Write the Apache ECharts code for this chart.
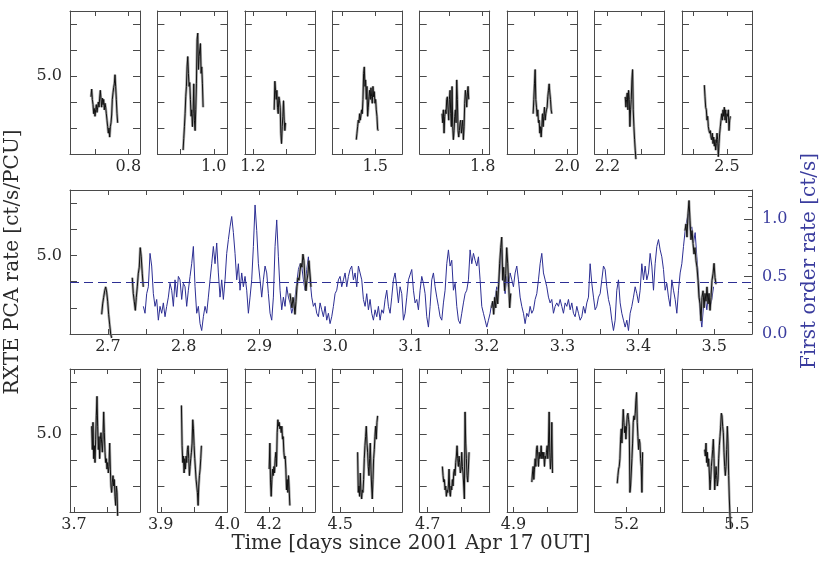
<!DOCTYPE html>
<html>
<head>
<meta charset="utf-8">
<title>RXTE PCA and first order light curves</title>
<script src="https://cdn.jsdelivr.net/npm/echarts@6/dist/echarts.min.js"></script>
<style>
  html, body { margin: 0; padding: 0; background: #fff; }
  #chart { width: 830px; height: 561px; }
</style>
</head>
<body>
<div id="chart"></div>
<script>
// ---------- data ----------
// x ranges and ticks of the small panels (days)
const topRanges = [[0.7125, 0.8175], [0.9155, 1.0205], [1.188, 1.293], [1.4355, 1.5405], [1.7055, 1.8105], [1.91, 2.015], [2.1805, 2.2855], [2.4325, 2.5375]]
const topTicks = [[0.75, 0.8], [0.95, 1.0], [1.2, 1.25], [1.45, 1.5], [1.75, 1.8], [1.95, 2.0], [2.2, 2.25], [2.45, 2.5]]
const topLabels = [[0.8], [1.0], [1.2], [1.5], [1.8], [2.0], [2.2], [2.5]]

const botRanges = [[3.694, 3.799], [3.895, 4.0], [4.1635, 4.2685], [4.488, 4.593], [4.688, 4.793], [4.8905, 4.9955], [5.152, 5.257], [5.4175, 5.5225]]
const botTicks = [[3.7, 3.75], [3.9, 3.95, 4.0], [4.2, 4.25], [4.5, 4.55], [4.7, 4.75], [4.9, 4.95], [5.2, 5.25], [5.45, 5.5]]
const botLabels = [[3.7], [3.9, 4.0], [4.2], [4.5], [4.7], [4.9], [5.2], [5.5]]

// middle panel axes
const midRange = [2.65, 3.55]
const midTicks = [2.7, 2.75, 2.8, 2.85, 2.9, 2.95, 3.0, 3.05, 3.1, 3.15, 3.2, 3.25, 3.3, 3.35, 3.4, 3.45, 3.5]
const midLabels = [2.7, 2.8, 2.9, 3.0, 3.1, 3.2, 3.3, 3.4, 3.5]
const pcaRange = [2, 7.5]
const pcaTicks = [3, 4, 5, 6, 7]
const pcaLabels = [5]
const foRange = [0, 1.25]
const foMajor = [0, 0.5, 1.0]
const foMinor = [0.1, 0.2, 0.3, 0.4, 0.6, 0.7, 0.8, 0.9, 1.1, 1.2]
const foMean = 0.45

// PCA rate, top row  [time, rate]
const pcaTop1 = [[0.744,4.2],[0.745,4.5],[0.746,4.1],[0.747,3.9],[0.748,3.55],[0.749,3.75],[0.750,3.45],[0.751,3.7],[0.752,3.9],[0.753,3.6],[0.754,3.8],[0.755,4.0],[0.756,3.8],[0.757,4.15],[0.758,4.45],[0.759,4.1],[0.760,3.8],[0.761,4.15],[0.762,3.9],[0.763,4.1],[0.764,3.7],[0.765,3.95],[0.766,3.8],[0.767,3.55],[0.768,3.3],[0.769,3.05],[0.770,2.8],[0.771,3.0],[0.772,2.65],[0.773,3.05],[0.774,3.2],[0.775,3.5],[0.776,4.1],[0.777,4.35],[0.778,4.55],[0.779,4.7],[0.780,5.05],[0.781,4.6],[0.782,4.1],[0.783,3.55],[0.784,3.2]]
const pcaTop2 = [[0.954,2.15],[0.955,2.6],[0.956,3.05],[0.957,3.55],[0.958,4.2],[0.959,4.6],[0.960,5.35],[0.961,5.75],[0.962,5.1],[0.963,4.6],[0.964,4.75],[0.965,4.1],[0.966,3.45],[0.967,3.7],[0.968,3.05],[0.969,3.55],[0.970,4.7],[0.971,3.3],[0.972,2.9],[0.973,3.7],[0.974,4.7],[0.975,6.4],[0.976,6.65],[0.977,5.25],[0.978,5.75],[0.979,6.0],[0.980,6.25],[0.981,5.1],[0.982,5.35],[0.983,4.7],[0.984,3.8]]
const pcaTop3 = [[1.232,3.7],[1.233,4.8],[1.234,4.45],[1.235,4.1],[1.236,4.45],[1.237,3.8],[1.238,3.55],[1.239,4.2],[1.240,4.05],[1.241,3.8],[1.242,2.8],[1.243,2.4],[1.244,3.05],[1.245,3.45],[1.246,4.05],[1.247,3.3],[1.248,2.9],[1.249,3.2]]
const pcaTop4 = [[1.4715,2.55],[1.4725,2.8],[1.4735,3.05],[1.4745,3.3],[1.4755,3.2],[1.4765,3.55],[1.4775,3.3],[1.4785,3.5],[1.4795,3.7],[1.4805,3.55],[1.4815,4.1],[1.4825,5.1],[1.4835,5.35],[1.4845,4.6],[1.4855,4.85],[1.4865,4.1],[1.4875,4.6],[1.4885,3.45],[1.4895,3.8],[1.4905,4.2],[1.4915,4.45],[1.4925,4.1],[1.4935,4.55],[1.4945,4.2],[1.4955,3.95],[1.4965,4.6],[1.4975,4.2],[1.4985,4.4],[1.4995,3.95],[1.5005,4.1],[1.5015,3.7],[1.5025,3.45],[1.5035,2.95],[1.5045,2.9]]
const pcaTop5 = [[1.739,3.55],[1.740,3.2],[1.741,3.7],[1.742,2.8],[1.743,3.45],[1.744,3.7],[1.745,3.55],[1.746,4.1],[1.747,4.2],[1.748,3.7],[1.749,3.3],[1.750,4.1],[1.751,4.45],[1.752,3.55],[1.753,3.05],[1.754,4.6],[1.755,3.05],[1.756,2.55],[1.757,2.9],[1.758,3.45],[1.759,3.7],[1.760,3.2],[1.761,4.85],[1.762,4.1],[1.763,2.9],[1.764,2.65],[1.765,2.9],[1.766,3.2],[1.767,3.3],[1.768,2.8],[1.769,3.05],[1.770,3.3],[1.771,2.55],[1.772,3.05],[1.773,3.95],[1.774,4.45],[1.775,4.2],[1.776,3.8],[1.777,4.35],[1.778,4.6],[1.779,4.1]]
const pcaTop6 = [[1.949,3.55],[1.950,4.1],[1.951,4.7],[1.952,5.25],[1.953,4.1],[1.954,3.8],[1.955,3.45],[1.956,3.7],[1.957,3.2],[1.958,3.3],[1.959,2.8],[1.960,3.05],[1.961,2.65],[1.962,3.05],[1.963,3.55],[1.964,3.05],[1.965,3.45],[1.966,3.8],[1.967,3.3],[1.968,3.55],[1.969,3.7],[1.970,3.8],[1.971,4.2],[1.972,4.45],[1.973,4.7],[1.974,4.35],[1.975,4.1],[1.976,3.7],[1.977,3.55]]
const pcaTop7 = [[2.2265,4.2],[2.2275,3.8],[2.2285,4.1],[2.2295,4.35],[2.2305,3.7],[2.2315,4.45],[2.2325,4.1],[2.2335,3.05],[2.2345,3.7],[2.2355,4.1],[2.2365,4.85],[2.2375,5.25],[2.2385,3.7],[2.2395,3.05],[2.2405,2.55],[2.2415,2.15],[2.2425,1.8]]
const pcaTop8 = [[2.466,4.65],[2.467,4.2],[2.468,3.8],[2.469,3.7],[2.470,3.3],[2.471,3.45],[2.472,3.05],[2.473,2.9],[2.474,2.8],[2.475,2.9],[2.476,2.65],[2.477,2.55],[2.478,2.8],[2.479,2.4],[2.480,2.65],[2.481,2.3],[2.482,2.55],[2.483,2.15],[2.484,2.4],[2.485,2.8],[2.486,2.55],[2.487,1.9],[2.488,2.4],[2.489,2.8],[2.490,3.05],[2.491,3.3],[2.492,3.55],[2.493,3.3],[2.494,3.7],[2.495,3.45],[2.496,3.8],[2.497,3.3],[2.498,3.7],[2.499,3.2],[2.500,3.55],[2.501,3.45],[2.502,3.7],[2.503,2.9],[2.504,3.3],[2.505,3.45]]

// PCA rate, bottom row
const pcaBot1 = [[3.7265,5.3],[3.7275,4.4],[3.7285,5.45],[3.7295,4.05],[3.7305,4.55],[3.7315,3.9],[3.7325,4.8],[3.7335,5.7],[3.7345,6.45],[3.7355,5.3],[3.7365,4.4],[3.7375,4.9],[3.7385,4.05],[3.7395,4.8],[3.7405,5.05],[3.7415,4.65],[3.7425,4.3],[3.7435,4.8],[3.7445,5.85],[3.7455,5.05],[3.7465,4.3],[3.7475,3.9],[3.7485,4.05],[3.7495,3.65],[3.7505,3.9],[3.7515,3.5],[3.7525,3.75],[3.7535,4.65],[3.7545,3.65],[3.7555,3.0],[3.7565,2.75],[3.7575,3.15],[3.7585,3.4],[3.7595,3.0],[3.7605,3.25],[3.7615,2.6],[3.7625,2.25],[3.7635,3.0],[3.7645,2.75],[3.7655,1.85]]
const pcaBot2 = [[3.931,6.1],[3.932,4.55],[3.933,3.9],[3.934,4.15],[3.935,3.5],[3.936,4.05],[3.937,3.65],[3.938,4.15],[3.939,3.9],[3.940,4.4],[3.941,4.55],[3.942,4.05],[3.943,3.4],[3.944,3.75],[3.945,4.05],[3.946,4.3],[3.947,4.65],[3.948,5.55],[3.949,5.2],[3.950,4.55],[3.951,4.05],[3.952,3.65],[3.953,3.25],[3.954,3.0],[3.955,2.75],[3.956,2.25],[3.957,3.0],[3.958,3.4],[3.959,3.65],[3.960,4.05],[3.961,4.55]]
const pcaBot3 = [[4.200,3.65],[4.201,4.65],[4.202,3.15],[4.203,2.6],[4.204,3.25],[4.205,3.65],[4.206,3.4],[4.207,3.75],[4.208,3.5],[4.209,4.05],[4.210,4.3],[4.211,3.75],[4.212,5.05],[4.213,5.55],[4.214,5.3],[4.215,5.45],[4.216,5.2],[4.217,5.3],[4.218,5.05],[4.219,5.3],[4.220,4.8],[4.221,4.9],[4.222,4.3],[4.223,4.05],[4.224,4.15],[4.225,3.65],[4.226,2.85],[4.227,3.25],[4.228,2.75],[4.229,3.4],[4.230,2.85],[4.231,2.25]]
const pcaBot4 = [[4.526,4.3],[4.527,2.75],[4.528,3.0],[4.529,2.6],[4.530,3.5],[4.531,2.75],[4.532,2.5],[4.533,2.85],[4.534,2.75],[4.535,3.25],[4.536,4.05],[4.537,4.55],[4.538,4.9],[4.539,5.3],[4.540,4.65],[4.541,4.3],[4.542,3.75],[4.543,3.4],[4.544,4.05],[4.545,4.65],[4.546,3.65],[4.547,3.0],[4.548,2.5],[4.549,3.25],[4.550,4.05],[4.551,4.4],[4.552,4.9],[4.553,5.3],[4.554,4.8],[4.555,5.45],[4.556,5.7]]
const pcaBot5 = [[4.722,3.75],[4.723,3.4],[4.724,3.15],[4.725,3.25],[4.726,2.85],[4.727,3.0],[4.728,2.6],[4.729,2.85],[4.730,2.75],[4.731,3.0],[4.732,3.65],[4.733,2.75],[4.734,2.6],[4.735,3.0],[4.736,2.85],[4.737,3.25],[4.738,3.0],[4.739,3.5],[4.740,3.65],[4.741,3.4],[4.742,3.9],[4.743,4.15],[4.744,4.55],[4.745,4.05],[4.746,3.75],[4.747,4.15],[4.748,3.9],[4.749,3.5],[4.750,3.65],[4.751,4.3],[4.752,3.75],[4.753,3.5],[4.754,3.0],[4.755,2.5],[4.756,5.85],[4.757,4.65],[4.758,4.05],[4.759,3.4],[4.760,3.15],[4.761,3.65],[4.762,4.3]]
const pcaBot6 = [[4.9275,3.15],[4.9285,3.5],[4.9295,3.75],[4.9305,3.25],[4.9315,3.65],[4.9325,4.05],[4.9335,3.75],[4.9345,4.4],[4.9355,4.55],[4.9365,4.15],[4.9375,3.75],[4.9385,4.3],[4.9395,4.05],[4.9405,4.15],[4.9415,4.55],[4.9425,4.05],[4.9435,4.3],[4.9445,4.05],[4.9455,4.3],[4.9465,3.75],[4.9475,4.15],[4.9485,4.05],[4.9495,4.3],[4.9505,4.55],[4.9515,4.05],[4.9525,4.65],[4.9535,5.85],[4.9545,4.3],[4.9555,3.65],[4.9565,4.05],[4.9575,5.45],[4.9585,3.5]]
const pcaBot7 = [[5.186,3.1],[5.187,3.4],[5.188,3.65],[5.189,3.75],[5.190,4.05],[5.191,4.8],[5.192,5.2],[5.193,4.65],[5.194,5.3],[5.195,5.95],[5.196,5.45],[5.197,5.05],[5.198,5.3],[5.199,4.8],[5.200,5.3],[5.201,5.7],[5.202,5.8],[5.203,5.55],[5.204,5.3],[5.205,2.75],[5.206,3.0],[5.207,3.5],[5.208,4.05],[5.209,4.65],[5.210,5.45],[5.211,5.7],[5.212,5.55],[5.213,5.8],[5.214,6.3],[5.215,6.6],[5.216,5.45],[5.217,4.9],[5.218,4.4],[5.219,4.8],[5.220,4.65],[5.221,4.05],[5.222,3.75],[5.223,2.75],[5.224,4.3]]
const pcaBot8 = [[5.4515,4.4],[5.4525,4.15],[5.4535,4.65],[5.4545,3.9],[5.4555,4.3],[5.4565,3.75],[5.4575,4.05],[5.4585,3.5],[5.4595,2.85],[5.4605,3.25],[5.4615,3.75],[5.4625,4.05],[5.4635,4.4],[5.4645,4.8],[5.4655,4.05],[5.4665,2.85],[5.4675,3.25],[5.4685,3.75],[5.4695,3.4],[5.4705,3.0],[5.4715,3.25],[5.4725,4.05],[5.4735,4.55],[5.4745,4.9],[5.4755,5.3],[5.4765,5.8],[5.4775,5.7],[5.4785,5.3],[5.4795,5.05],[5.4805,4.3],[5.4815,3.75],[5.4825,3.4],[5.4835,3.75],[5.4845,4.4],[5.4855,5.3],[5.4865,4.65],[5.4875,3.4],[5.4885,2.5],[5.4895,1.85],[5.4905,1.35]]

// PCA rate inside the middle panel
const pcaMidA = [[2.6918,2.75],[2.6931,3.15],[2.6944,3.4],[2.6958,3.65],[2.6971,3.8],[2.6984,3.6],[2.6997,3.25],[2.7010,2.75],[2.7024,2.35],[2.7037,2.0],[2.7050,1.85]]
const pcaMidB = [[2.7322,4.15],[2.7335,3.55],[2.7348,3.25],[2.7362,2.9],[2.7375,3.4],[2.7388,3.8],[2.7401,4.3],[2.7414,4.55],[2.7427,5.3],[2.7440,4.95],[2.7454,4.3],[2.7467,3.8]]
const pcaMidC = [[2.9403,3.55],[2.9416,3.25],[2.9429,3.0],[2.9443,3.4],[2.9456,3.15],[2.9469,2.75],[2.9482,3.25],[2.9495,3.8],[2.9508,4.15],[2.9522,4.05],[2.9535,4.4],[2.9548,4.7],[2.9561,4.55],[2.9574,5.05],[2.9587,4.8],[2.9601,4.05],[2.9614,3.65],[2.9627,4.05],[2.9640,4.3],[2.9653,4.8],[2.9666,4.8],[2.9680,3.8]]
const pcaMidD = [[3.2065,3.0],[3.2078,3.25],[3.2091,2.75],[3.2105,3.4],[3.2118,3.0],[3.2131,3.65],[3.2144,3.15],[3.2157,3.9],[3.2170,4.7],[3.2184,5.3],[3.2197,5.7],[3.2210,4.05],[3.2223,4.55],[3.2236,3.65],[3.2250,4.3],[3.2263,5.3],[3.2276,4.7],[3.2289,3.9],[3.2302,3.0],[3.2316,3.55]]
const pcaMidE = [[3.4616,5.95],[3.4629,6.2],[3.4642,5.7],[3.4656,6.6],[3.4669,7.1],[3.4682,6.35],[3.4695,5.6],[3.4708,5.95],[3.4722,5.45],[3.4735,5.05],[3.4748,5.3],[3.4761,4.8],[3.4774,4.55],[3.4788,4.05],[3.4801,3.4],[3.4814,3.15],[3.4827,2.5],[3.4840,3.4],[3.4854,3.65],[3.4867,3.0],[3.4880,3.55],[3.4893,3.25],[3.4906,3.8],[3.4920,3.15],[3.4933,3.55],[3.4946,2.9],[3.4959,3.4],[3.4972,4.05],[3.4986,4.3],[3.4999,4.7],[3.5012,4.15],[3.5025,3.9]]

// first order rate (blue), time and rate
const foTime = [
  2.7468,2.7490,2.7512,2.7534,2.7556,2.7578,2.7600,2.7622,2.7644,2.7666,
  2.7688,2.7710,2.7732,2.7754,2.7776,2.7798,2.7820,2.7842,2.7864,2.7886,
  2.7908,2.7930,2.7952,2.7974,2.7996,2.8018,2.8040,2.8062,2.8084,2.8106,
  2.8128,2.8150,2.8172,2.8194,2.8216,2.8238,2.8260,2.8282,2.8304,2.8326,
  2.8348,2.8370,2.8392,2.8414,2.8436,2.8458,2.8480,2.8502,2.8524,2.8546,
  2.8568,2.8590,2.8612,2.8634,2.8656,2.8678,2.8700,2.8722,2.8744,2.8766,
  2.8788,2.8810,2.8832,2.8854,2.8876,2.8898,2.8920,2.8942,2.8964,2.8986,
  2.9008,2.9030,2.9052,2.9074,2.9096,2.9118,2.9140,2.9162,2.9184,2.9206,
  2.9228,2.9250,2.9272,2.9294,2.9316,2.9338,2.9360,2.9382,2.9404,2.9426,
  2.9448,2.9470,2.9492,2.9514,2.9536,2.9558,2.9580,2.9602,2.9624,2.9646,
  2.9668,2.9690,2.9712,2.9734,2.9756,2.9778,2.9800,2.9822,2.9844,2.9866,
  2.9888,2.9910,2.9932,2.9954,2.9976,2.9998,3.0020,3.0042,3.0064,3.0086,
  3.0108,3.0130,3.0152,3.0174,3.0196,3.0218,3.0240,3.0262,3.0284,3.0306,
  3.0328,3.0350,3.0372,3.0394,3.0416,3.0438,3.0460,3.0482,3.0504,3.0526,
  3.0548,3.0570,3.0592,3.0614,3.0636,3.0658,3.0680,3.0702,3.0724,3.0746,
  3.0768,3.0790,3.0812,3.0834,3.0856,3.0878,3.0900,3.0922,3.0944,3.0966,
  3.0988,3.1010,3.1032,3.1054,3.1076,3.1098,3.1120,3.1142,3.1164,3.1186,
  3.1208,3.1230,3.1252,3.1274,3.1296,3.1318,3.1340,3.1362,3.1384,3.1406,
  3.1428,3.1450,3.1472,3.1494,3.1516,3.1538,3.1560,3.1582,3.1604,3.1626,
  3.1648,3.1670,3.1692,3.1714,3.1736,3.1758,3.1780,3.1802,3.1824,3.1846,
  3.1868,3.1890,3.1912,3.1934,3.1956,3.1978,3.2000,3.2022,3.2044,3.2066,
  3.2088,3.2110,3.2132,3.2154,3.2176,3.2198,3.2220,3.2242,3.2264,3.2286,
  3.2308,3.2330,3.2352,3.2374,3.2396,3.2418,3.2440,3.2462,3.2484,3.2506,
  3.2528,3.2550,3.2572,3.2594,3.2616,3.2638,3.2660,3.2682,3.2704,3.2726,
  3.2748,3.2770,3.2792,3.2814,3.2836,3.2858,3.2880,3.2902,3.2924,3.2946,
  3.2968,3.2990,3.3012,3.3034,3.3056,3.3078,3.3100,3.3122,3.3144,3.3166,
  3.3188,3.3210,3.3232,3.3254,3.3276,3.3298,3.3320,3.3342,3.3364,3.3386,
  3.3408,3.3430,3.3452,3.3474,3.3496,3.3518,3.3540,3.3562,3.3584,3.3606,
  3.3628,3.3650,3.3672,3.3694,3.3716,3.3738,3.3760,3.3782,3.3804,3.3826,
  3.3848,3.3870,3.3892,3.3914,3.3936,3.3958,3.3980,3.4002,3.4024,3.4046,
  3.4068,3.4090,3.4112,3.4134,3.4156,3.4178,3.4200,3.4222,3.4244,3.4266,
  3.4288,3.4310,3.4332,3.4354,3.4376,3.4398,3.4420,3.4442,3.4464,3.4486,
  3.4508,3.4530,3.4552,3.4574,3.4596,3.4618,3.4640,3.4662,3.4684,3.4706,
  3.4728,3.4750,3.4772,3.4794,3.4816,3.4838,3.4860,3.4882,3.4904,3.4926,
  3.4948,3.4970,3.4992
]
const foRate = [
  0.24,0.18,0.35,0.41,0.70,0.59,0.35,0.24,0.30,0.12,
  0.24,0.18,0.27,0.15,0.24,0.32,0.44,0.38,0.24,0.47,
  0.32,0.50,0.47,0.30,0.44,0.41,0.24,0.38,0.50,0.61,
  0.76,0.41,0.18,0.24,0.09,0.03,0.15,0.24,0.18,0.32,
  0.47,0.61,0.76,0.61,0.79,0.53,0.32,0.47,0.30,0.47,
  0.70,0.82,0.93,1.02,0.88,0.70,0.47,0.61,0.38,0.53,
  0.41,0.50,0.38,0.18,0.32,0.47,0.76,1.12,0.90,0.61,
  0.47,0.32,0.47,0.59,0.53,0.35,0.18,0.12,0.32,0.76,
  0.99,0.67,0.38,0.21,0.32,0.24,0.41,0.32,0.27,0.18,
  0.24,0.32,0.44,0.56,0.61,0.59,0.47,0.38,0.56,0.67,
  0.47,0.32,0.24,0.27,0.18,0.15,0.27,0.21,0.15,0.24,
  0.12,0.18,0.09,0.15,0.24,0.35,0.38,0.47,0.50,0.41,
  0.47,0.53,0.41,0.50,0.56,0.59,0.47,0.53,0.41,0.59,
  0.60,0.47,0.30,0.24,0.35,0.21,0.30,0.18,0.12,0.21,
  0.15,0.24,0.12,0.21,0.18,0.30,0.38,0.24,0.18,0.32,
  0.47,0.53,0.41,0.27,0.41,0.35,0.12,0.18,0.32,0.47,
  0.47,0.56,0.38,0.27,0.30,0.21,0.38,0.50,0.44,0.35,
  0.15,0.06,0.24,0.47,0.53,0.41,0.32,0.24,0.15,0.12,
  0.27,0.38,0.61,0.73,0.59,0.64,0.38,0.44,0.24,0.12,
  0.09,0.18,0.27,0.35,0.38,0.47,0.73,0.61,0.70,0.64,
  0.59,0.67,0.47,0.24,0.18,0.12,0.06,0.12,0.18,0.27,
  0.24,0.32,0.41,0.38,0.59,0.73,0.47,0.35,0.50,0.41,
  0.53,0.47,0.41,0.53,0.59,0.47,0.32,0.24,0.18,0.09,
  0.18,0.15,0.24,0.18,0.21,0.30,0.35,0.47,0.61,0.70,
  0.53,0.47,0.41,0.32,0.27,0.30,0.18,0.24,0.27,0.24,
  0.30,0.24,0.18,0.27,0.24,0.30,0.21,0.27,0.18,0.15,
  0.24,0.18,0.12,0.15,0.24,0.18,0.27,0.32,0.61,0.44,
  0.32,0.21,0.24,0.32,0.35,0.47,0.59,0.56,0.41,0.30,
  0.24,0.12,0.03,0.12,0.38,0.47,0.27,0.18,0.12,0.06,
  0.12,0.03,0.18,0.24,0.32,0.41,0.35,0.27,0.38,0.61,
  0.47,0.59,0.47,0.53,0.70,0.59,0.38,0.61,0.76,0.82,
  0.73,0.67,0.56,0.38,0.44,0.32,0.24,0.47,0.38,0.30,
  0.18,0.38,0.53,0.61,0.76,0.90,0.99,1.05,0.90,0.93,
  0.79,0.88,0.67,0.47,0.18,0.06,0.24,0.32,0.21,0.35,
  0.24,0.30,0.41
]

const topCurves = [pcaTop1, pcaTop2, pcaTop3, pcaTop4, pcaTop5, pcaTop6, pcaTop7, pcaTop8]
const botCurves = [pcaBot1, pcaBot2, pcaBot3, pcaBot4, pcaBot5, pcaBot6, pcaBot7, pcaBot8]
const midCurves = [pcaMidA, pcaMidB, pcaMidC, pcaMidD, pcaMidE]

// ---------- styles ----------
const FONT = '"DejaVu Serif", serif'
const INK = '#2a2a2a'
const FRAME = '#4a4a4a'
const BLUE = '#2d2f94'
const BLUE_TEXT = '#3a3c9e'

const grids = []
const xAxes = []
const yAxes = []
const series = []

const fmt = v => Number(v).toFixed(1)

function labelStyle (extra) {
  return Object.assign({ fontFamily: FONT, fontSize: 16, color: INK }, extra)
}

// x axis pair (bottom with labels, top mirror)
function addXAxes (g, range, ticks, labels) {
  const base = {
    gridIndex: g, type: 'value', min: range[0], max: range[1],
    axisLine: { onZero: false, lineStyle: { color: FRAME, width: 1 } },
    splitLine: { show: false }
  }
  const bottom = xAxes.length
  xAxes.push(Object.assign({}, base, {
    position: 'bottom',
    axisTick: { inside: true, length: 5, customValues: ticks, lineStyle: { color: FRAME } },
    axisLabel: labelStyle({ customValues: labels, formatter: fmt, margin: 5, showMinLabel: true, showMaxLabel: true })
  }))
  xAxes.push(Object.assign({}, base, {
    position: 'top',
    axisTick: { inside: true, length: 5, customValues: ticks, lineStyle: { color: FRAME } },
    axisLabel: { show: false }
  }))
  return bottom
}

// PCA y axis pair (left, right mirror)
function addPcaAxes (g, withLabel, mirror) {
  const base = {
    gridIndex: g, type: 'value', min: pcaRange[0], max: pcaRange[1],
    axisLine: { show: true, onZero: false, lineStyle: { color: FRAME, width: 1 } },
    axisTick: { show: true, inside: true, length: 7, customValues: pcaTicks, lineStyle: { color: FRAME } },
    splitLine: { show: false }
  }
  const left = yAxes.length
  yAxes.push(Object.assign({}, base, {
    position: 'left',
    axisLabel: withLabel ? labelStyle({ customValues: pcaLabels, formatter: fmt, margin: 8 }) : { show: false }
  }))
  if (mirror) {
    yAxes.push(Object.assign({}, base, { position: 'right', axisLabel: { show: false } }))
  }
  return left
}

function addPcaCurve (xi, yi, data) {
  // grey band under the black curve stands in for the error bars
  series.push({
    type: 'line', xAxisIndex: xi, yAxisIndex: yi, data: data, showSymbol: false,
    clip: false, z: 3, silent: true,
    lineStyle: { color: '#909090', width: 2.6, opacity: 0.8 }
  })
  series.push({
    type: 'line', xAxisIndex: xi, yAxisIndex: yi, data: data, showSymbol: false,
    clip: false, z: 4, silent: true,
    lineStyle: { color: '#111', width: 1 }
  })
}

// ---------- layout ----------
const PANEL_W = 70
const PANEL_STEP = 87.43
const ROW_TOP = 11
const ROW_MID = 190
const ROW_BOT = 369

function addSmallRow (top, ranges, ticks, labels, curves) {
  ranges.forEach((r, i) => {
    const g = grids.length
    grids.push({ left: 70 + i * PANEL_STEP, top: top, width: PANEL_W, height: 143 })
    const xi = addXAxes(g, r, ticks[i], labels[i])
    const yi = addPcaAxes(g, i === 0, true)
    addPcaCurve(xi, yi, curves[i])
  })
}

addSmallRow(ROW_TOP, topRanges, topTicks, topLabels, topCurves)
addSmallRow(ROW_BOT, botRanges, botTicks, botLabels, botCurves)

// middle panel
const gMid = grids.length
grids.push({ left: 70, top: ROW_MID, width: 682, height: 144 })
const xMid = addXAxes(gMid, midRange, midTicks, midLabels)
const yMid = addPcaAxes(gMid, true, false)
const yFo = yAxes.length
yAxes.push({
  gridIndex: gMid, type: 'value', position: 'right', min: foRange[0], max: foRange[1],
  axisLine: { show: true, onZero: false, lineStyle: { color: FRAME, width: 1 } },
  axisTick: { show: true, inside: true, length: 8, customValues: foMajor, lineStyle: { color: FRAME } },
  axisLabel: labelStyle({ customValues: foMajor, formatter: fmt, margin: 10, color: BLUE_TEXT }),
  splitLine: { show: false }
})
yAxes.push({
  gridIndex: gMid, type: 'value', position: 'right', min: foRange[0], max: foRange[1],
  axisLine: { show: false },
  axisTick: { show: true, inside: true, length: 4, customValues: foMinor, lineStyle: { color: FRAME } },
  axisLabel: { show: false },
  splitLine: { show: false }
})

series.push({
  type: 'line', xAxisIndex: xMid, yAxisIndex: yFo, showSymbol: false, z: 2, silent: true,
  data: foTime.map((t, i) => [t, foRate[i]]),
  lineStyle: { color: BLUE, width: 1 },
  markLine: {
    silent: true, symbol: ['none', 'none'], label: { show: false },
    lineStyle: { color: BLUE, width: 1, type: [9, 5] },
    data: [{ yAxis: foMean }]
  }
})
midCurves.forEach(c => addPcaCurve(xMid, yMid, c))

// ---------- axis titles ----------
const titleFont = '20px "DejaVu Serif", serif'
const graphic = [
  { type: 'text', x: 411, y: 544, style: { text: 'Time [days since 2001 Apr 17 0UT]', font: titleFont, fill: INK, align: 'center', verticalAlign: 'middle' } },
  { type: 'text', x: 13, y: 262, rotation: Math.PI / 2, style: { text: 'RXTE PCA rate [ct/s/PCU]', font: titleFont, fill: INK, align: 'center', verticalAlign: 'middle' } },
  { type: 'text', x: 810, y: 261, rotation: Math.PI / 2, style: { text: 'First order rate [ct/s]', font: titleFont, fill: BLUE_TEXT, align: 'center', verticalAlign: 'middle' } }
]

const chart = echarts.init(document.getElementById('chart'))
chart.setOption({
  animation: false,
  backgroundColor: '#fff',
  grid: grids,
  xAxis: xAxes,
  yAxis: yAxes,
  series: series,
  graphic: graphic
})
</script>
</body>
</html>
